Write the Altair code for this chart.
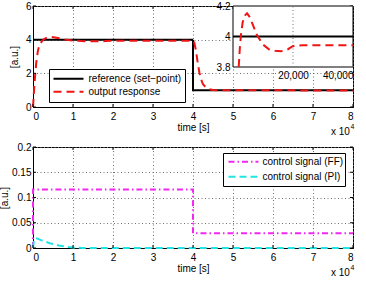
import altair as alt
import pandas as pd

FONT = "Liberation Sans"
W, H = 320, 101

# ---- tick positions (time in seconds) ----
x_ticks = [0, 10000, 20000, 30000, 40000, 50000, 60000, 70000, 80000]
y_ticks_top = [0, 2, 4, 6]
y_ticks_bottom = [0, 0.05, 0.1, 0.15, 0.2]
inset_x_ticks = [20000, 40000]
inset_y_ticks = [3.8, 4.0, 4.2]
inset_t_range = [0, 40000]
inset_v_range = [3.8, 4.2]

# ---- top panel: set-point and plant output ----
top_series = ["reference (set\u2212point)", "output response"]
ref_t = [0, 40000, 40000, 80000]
ref_v = [4, 4, 1, 1]
out_t = [0, 400, 800, 1200, 1500, 1900, 2300, 2700, 3200, 3770, 4670, 5500, 6560,
         7900, 9900, 12100, 14000, 16000, 18200, 19900, 23200, 40000,
         40300, 40700, 41200, 41600, 42000, 42500, 43200, 44000, 45000, 46000, 80000]
out_v = [0, 1.5, 2.6, 3.3, 3.6, 3.8, 3.93, 4.02, 4.09, 4.134, 4.152, 4.13, 4.08,
         4.013, 3.948, 3.915, 3.906, 3.903, 3.915, 3.936, 3.943, 3.943,
         3.85, 3.4, 2.6, 2.05, 1.65, 1.35, 1.17, 1.06, 1.01, 0.99, 0.986]

# ---- bottom panel: feed-forward and PI control effort ----
bottom_series = ["control signal (FF)", "control signal (PI)"]
ff_t = [0, 0, 40000, 40000, 80000]
ff_v = [0, 0.116, 0.116, 0.029, 0.029]
pi_t = [0, 250, 600, 1000, 2000, 3250, 4200, 5300, 6500, 7800, 9000, 10500, 12500, 80000]
pi_v = [0, 0.015, 0.0195, 0.019, 0.0155, 0.012, 0.0095, 0.0073, 0.005, 0.0034,
        0.0018, 0.0006, 0, 0]

RED, BLACK, MAGENTA, CYAN = "#f01414", "#000000", "#f028f0", "#22e4e4"
GRID = "#707070"


def frame(name, ts, vs):
    return pd.DataFrame({"series": name, "t": ts, "v": vs, "i": range(len(ts))})


top_df = pd.concat([frame(top_series[0], ref_t, ref_v),
                    frame(top_series[1], out_t, out_v)], ignore_index=True)
bottom_df = pd.concat([frame(bottom_series[0], ff_t, ff_v),
                       frame(bottom_series[1], pi_t, pi_v)], ignore_index=True)
xtick_df = pd.DataFrame({"t": x_ticks})

time_scale = alt.Scale(domain=[0, 80000], nice=False, zero=False)
time_axis = alt.Axis(values=x_ticks, labelExpr="datum.value / 10000", title="time [s]",
                     grid=True, labelPadding=4, titlePadding=1)


def value_axis(ticks, pad):
    return alt.Axis(values=ticks, labelExpr="format(datum.value, '~g')", title="[a.u.]",
                    titlePadding=pad, labelPadding=2, grid=True)


def inward_ticks(yticks, yscale, yaxis):
    """Short ticks pointing into the plot on all four sides."""
    xs = alt.X("t:Q", scale=time_scale, axis=time_axis)
    ys = alt.Y("v:Q", scale=yscale, axis=yaxis)
    ydf = pd.DataFrame({"v": yticks})
    base_x = alt.Chart(xtick_df).mark_rule(color="black", strokeWidth=1)
    base_y = alt.Chart(ydf).mark_rule(color="black", strokeWidth=1)
    return [
        base_x.encode(x=xs, y=alt.value(H), y2=alt.value(H - 3)),
        base_x.encode(x=xs, y=alt.value(0), y2=alt.value(3)),
        base_y.encode(y=ys, x=alt.value(0), x2=alt.value(3)),
        base_y.encode(y=ys, x=alt.value(W), x2=alt.value(W - 3)),
    ]


def exponent_note():
    d = alt.Data(values=[{"base": "x 10", "exp": "4"}])
    base = alt.Chart(d).mark_text(align="left", baseline="middle", fontSize=10,
                                  font=FONT, color="black").encode(
        x=alt.value(298), y=alt.value(H + 25), text="base:N")
    exp = alt.Chart(d).mark_text(align="left", baseline="middle", fontSize=7,
                                 font=FONT, color="black").encode(
        x=alt.value(317.5), y=alt.value(H + 20), text="exp:N")
    return [base, exp]


# ---------------- top panel ----------------
top_y_scale = alt.Scale(domain=[0, 6], nice=False, zero=False)
top_y_axis = value_axis(y_ticks_top, 6)
top_legend = alt.Legend(orient="none", legendX=16, legendY=63, title=None,
                        symbolType="stroke", symbolSize=900, symbolStrokeWidth=2,
                        clipHeight=12.6, rowPadding=0, padding=3.5, labelOffset=4,
                        labelLimit=300, strokeColor="black", fillColor="white",
                        cornerRadius=0)
top_lines = alt.Chart(top_df).mark_line(strokeWidth=2).encode(
    x=alt.X("t:Q", scale=time_scale, axis=time_axis),
    y=alt.Y("v:Q", scale=top_y_scale, axis=top_y_axis),
    color=alt.Color("series:N", scale=alt.Scale(domain=top_series, range=[BLACK, RED]),
                    legend=top_legend),
    strokeDash=alt.StrokeDash("series:N",
                              scale=alt.Scale(domain=top_series, range=[[1, 0], [8, 5]]),
                              legend=top_legend),
    order="i:Q",
)
top_main = alt.layer(top_lines, *inward_ticks(y_ticks_top, top_y_scale, top_y_axis),
                     *exponent_note())

# zoomed view of the first step, drawn in its own scales in the upper right corner
inset_xs = alt.Scale(domain=inset_t_range, range=[200, 320], nice=False, zero=False)
inset_ys = alt.Scale(domain=inset_v_range, range=[61, 0], nice=False, zero=False)
inset_x_axis = alt.Axis(values=inset_x_ticks, labelExpr="format(datum.value, ',')",
                        orient="bottom", offset=-40, grid=False, title=None, domain=False,
                        labelPadding=3)
inset_y_axis = alt.Axis(values=inset_y_ticks, labelExpr="format(datum.value, '~g')",
                        orient="left", offset=-200, grid=False, title=None, domain=False,
                        labelPadding=3)
box_df = pd.DataFrame({"t": [inset_t_range[0]], "t1": [inset_t_range[1]],
                       "v": [inset_v_range[0]], "v1": [inset_v_range[1]]})
ix = alt.X("t:Q", scale=inset_xs, axis=inset_x_axis)
iy = alt.Y("v:Q", scale=inset_ys, axis=inset_y_axis)
inset_box = alt.Chart(box_df).mark_rect(fill="white", stroke="black", strokeWidth=1).encode(
    x=ix, x2="t1:Q", y=iy, y2="v1:Q")
grid_df = pd.DataFrame({"t": inset_x_ticks, "v": inset_v_range[0], "v1": inset_v_range[1]})
inset_grid = alt.Chart(grid_df).mark_rule(color=GRID, strokeDash=[1, 2.5], strokeWidth=1).encode(
    x=ix, y=iy, y2="v1:Q")
inset_filter = "datum.t <= %d && datum.v >= %g" % (inset_t_range[1], inset_v_range[0])
inset_ref = alt.Chart(top_df).transform_filter(
    alt.datum.series == top_series[0]).transform_filter(inset_filter).mark_line(
    color=BLACK, strokeWidth=2).encode(x=ix, y=iy, order="i:Q")
inset_out = alt.Chart(top_df).transform_filter(
    alt.datum.series == top_series[1]).transform_filter(inset_filter).mark_line(
    color=RED, strokeWidth=2, strokeDash=[8, 5]).encode(x=ix, y=iy, order="i:Q")
inset = alt.layer(inset_box, inset_grid, inset_ref, inset_out)

top = alt.layer(top_main, inset).resolve_scale(x="independent", y="independent").properties(
    width=W, height=H)

# ---------------- bottom panel ----------------
bottom_y_scale = alt.Scale(domain=[0, 0.2], nice=False, zero=False)
bottom_y_axis = value_axis(y_ticks_bottom, 2.5)
bottom_legend = alt.Legend(orient="none", legendX=190, legendY=6, title=None,
                           symbolType="stroke", symbolSize=900, symbolStrokeWidth=2,
                           clipHeight=14.3, rowPadding=0, padding=1.5, labelOffset=3,
                           symbolOffset=3, labelLimit=300, strokeColor="black",
                           fillColor="white", cornerRadius=0)
bottom_lines = alt.Chart(bottom_df).mark_line(strokeWidth=2).encode(
    x=alt.X("t:Q", scale=time_scale, axis=time_axis),
    y=alt.Y("v:Q", scale=bottom_y_scale, axis=bottom_y_axis),
    color=alt.Color("series:N",
                    scale=alt.Scale(domain=bottom_series, range=[MAGENTA, CYAN]),
                    legend=bottom_legend),
    strokeDash=alt.StrokeDash("series:N",
                              scale=alt.Scale(domain=bottom_series,
                                              range=[[6, 3, 1.5, 3], [7, 4]]),
                              legend=bottom_legend),
    order="i:Q",
)
bottom = alt.layer(bottom_lines, *inward_ticks(y_ticks_bottom, bottom_y_scale, bottom_y_axis),
                   *exponent_note()).properties(width=W, height=H)

chart = alt.vconcat(top, bottom, spacing=3).resolve_scale(
    color="independent", strokeDash="independent"
).properties(
    padding={"left": -2, "top": 0, "right": 0, "bottom": 0}
).configure(font=FONT).configure_view(
    stroke="black", strokeWidth=1
).configure_axis(
    domainColor="black", domainWidth=1, labelColor="black", labelFont=FONT,
    labelFontSize=10, titleFont=FONT, titleFontSize=10, titleFontWeight="normal",
    titleColor="black", gridColor=GRID, gridDash=[1, 2.5], gridWidth=1,
    ticks=False, tickSize=0
).configure_legend(labelFont=FONT, labelFontSize=10, labelColor="black")

chart.save("out.html", embed_options={"renderer": "svg", "actions": False})
